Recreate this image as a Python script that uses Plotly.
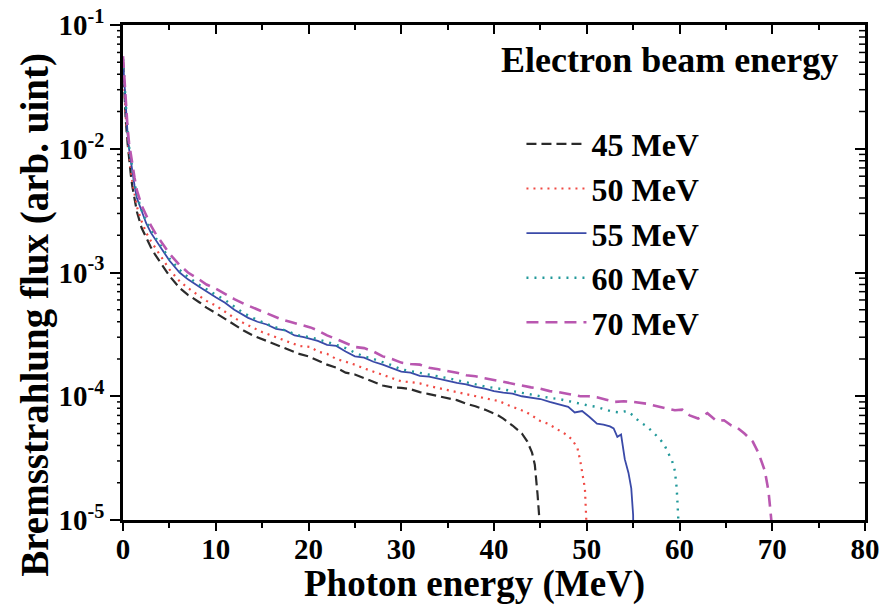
import math
import plotly.graph_objects as go

# ---------------- data ----------------
series_names = ["45 MeV", "50 MeV", "55 MeV", "60 MeV", "70 MeV"]

e45 = [0, 0.15, 0.3, 0.5, 0.65, 0.85, 1.0, 1.25, 1.5, 2.0, 2.5, 3.0, 3.45, 4.0, 5.0, 6.1, 7.0, 8.3, 9, 10, 11, 12, 13, 14, 15, 16, 17, 18, 19, 20, 21, 22, 23, 24, 25, 26, 27, 28, 29, 30, 31, 32, 33, 34, 35, 36, 37, 38, 39, 40.3, 41, 42, 43, 43.6, 44.1, 44.4, 44.7, 44.9, 45.0]
f45 = [0.05, 0.028, 0.017, 0.011, 0.0082, 0.0061, 0.0050, 0.0039, 0.0031, 0.0023, 0.0019, 0.0016, 0.0014, 0.00122, 0.00094, 0.00075, 0.00066, 0.00057, 0.00052, 0.00047, 0.00042, 0.00038, 0.00034, 0.00031, 0.00029, 0.00027, 0.00025, 0.000235, 0.00022, 0.00021, 0.000195, 0.00018, 0.00017, 0.000155, 0.00015, 0.00014, 0.00013, 0.000122, 0.000118, 0.000117, 0.000114, 0.000108, 0.000104, 0.0001, 0.000097, 0.000093, 0.000087, 0.000083, 0.000078, 0.000071, 0.000066, 0.000058, 0.00005, 0.000043, 0.000035, 0.000028, 0.000016, 0.00001, 0.000005]

e50 = [0, 0.15, 0.3, 0.5, 0.65, 0.85, 1.0, 1.25, 1.5, 2.0, 2.5, 3.0, 3.45, 4.0, 5.0, 6.1, 7.0, 8.3, 9, 10, 11, 12, 13, 14, 15, 16, 17, 18, 19, 20.2, 21, 22, 23, 24, 25, 26, 27, 28, 29, 30, 31, 32, 33, 34, 35.3, 36, 37, 38, 39, 40.6, 41.5, 42.5, 43.4, 44.2, 45, 45.8, 46.8, 47.6, 48.4, 49.0, 49.3, 49.6, 49.8, 49.95, 50.0]
f50 = [0.051, 0.029, 0.018, 0.012, 0.0088, 0.0067, 0.0055, 0.0043, 0.0034, 0.0026, 0.0021, 0.0018, 0.0016, 0.00137, 0.00106, 0.00085, 0.00075, 0.00064, 0.00059, 0.00054, 0.00048, 0.00043, 0.00039, 0.00036, 0.00033, 0.00031, 0.00029, 0.00027, 0.000255, 0.00025, 0.00023, 0.00022, 0.0002, 0.00019, 0.00018, 0.000168, 0.000158, 0.00015, 0.00014, 0.000132, 0.00013, 0.000127, 0.000121, 0.000116, 0.00011, 0.000108, 0.000104, 0.0001, 0.000096, 0.000091, 0.000085, 0.00008, 0.000075, 0.000069, 0.000063, 0.00006, 0.000054, 0.00005, 0.000045, 0.000038, 0.00003, 0.000023, 0.000018, 0.00001, 0.000005]

e55 = [0, 0.15, 0.3, 0.5, 0.65, 0.85, 1.0, 1.25, 1.5, 2.0, 2.5, 3.0, 3.45, 4.0, 5.0, 6.1, 7.0, 8.3, 9.0, 10, 11, 12, 13.5, 14.5, 15.5, 16.5, 17.5, 18.5, 19.5, 20.2, 21, 22, 23, 24, 25, 26, 27, 28, 29, 30, 31, 32, 33, 34, 35, 36, 37, 38, 39, 40, 41, 42, 43, 44, 45, 46, 47, 48, 48.7, 49.5, 50.3, 51.1, 51.8, 52.5, 52.9, 53.3, 53.7, 54.1, 54.5, 54.8, 55.0, 55.05]
f55 = [0.052, 0.032, 0.02, 0.013, 0.01, 0.0077, 0.0064, 0.0050, 0.0040, 0.0031, 0.0025, 0.0021, 0.00186, 0.0016, 0.00125, 0.001, 0.00088, 0.00076, 0.0007, 0.00063, 0.00057, 0.0005, 0.00043, 0.0004, 0.00038, 0.00035, 0.00034, 0.00031, 0.0003, 0.00029, 0.00028, 0.00026, 0.000255, 0.00023, 0.00021, 0.000205, 0.00019, 0.00018, 0.000168, 0.000158, 0.000155, 0.000146, 0.000144, 0.000138, 0.000132, 0.000128, 0.000125, 0.000119, 0.000115, 0.00011, 0.000107, 0.000105, 0.0001, 0.000097, 0.000095, 0.00009, 0.000086, 0.000082, 0.000074, 0.000076, 0.000068, 0.00006, 0.000059, 0.000057, 0.000055, 0.000047, 0.000049, 0.000031, 0.000024, 0.000018, 0.000011, 0.000005]

e60 = [0, 0.15, 0.3, 0.5, 0.65, 0.85, 1.0, 1.25, 1.5, 2.0, 2.5, 3.0, 3.45, 4.0, 5.0, 6.1, 7.0, 8.3, 9, 10, 11, 12, 13, 14, 15, 16, 17, 18, 19, 20.2, 21, 22, 23, 24, 25, 26, 27, 28, 29, 30, 31, 32, 33, 34, 35, 36, 37, 38, 39, 40.6, 42, 43, 44, 45, 46, 47, 48, 49.3, 50.2, 51.1, 52, 52.8, 53.6, 54.3, 55, 55.7, 56.5, 57.2, 57.9, 58.4, 58.8, 59.2, 59.5, 59.7, 59.85, 60.0]
f60 = [0.053, 0.033, 0.021, 0.0135, 0.0105, 0.0081, 0.0067, 0.0053, 0.0042, 0.0032, 0.0026, 0.0022, 0.00195, 0.00168, 0.0013, 0.00105, 0.00092, 0.00079, 0.00073, 0.00066, 0.0006, 0.00053, 0.00047, 0.00043, 0.0004, 0.00037, 0.00035, 0.00033, 0.00031, 0.0003, 0.00029, 0.000275, 0.00026, 0.000245, 0.000225, 0.00021, 0.0002, 0.00019, 0.000178, 0.000165, 0.00016, 0.000155, 0.00015, 0.000145, 0.00014, 0.000135, 0.00013, 0.000126, 0.00012, 0.000115, 0.00011, 0.000106, 0.000103, 0.0001, 0.000097, 0.000095, 0.000092, 0.000087, 0.000084, 0.000082, 0.000078, 0.000075, 0.000074, 0.000076, 0.00007, 0.000062, 0.000057, 0.000051, 0.000045, 0.00004, 0.000035, 0.00003, 0.000025, 0.000018, 0.000011, 0.000005]

e70 = [0, 0.15, 0.3, 0.5, 0.65, 0.85, 1.0, 1.25, 1.5, 2.0, 2.5, 3.0, 3.45, 4.0, 5.0, 6.1, 7.0, 8.3, 9, 10, 11, 12, 13, 14, 15, 16, 17, 18, 19, 20.2, 21, 22, 23, 24, 25, 26, 27, 28, 29, 30, 31, 32, 33, 34, 35, 36, 37, 38, 39, 40.6, 42, 43, 44, 45, 46, 47, 48, 49.3, 50.2, 51.1, 52, 53, 54, 55, 56.5, 57.5, 58.5, 59.5, 60.3, 61.1, 62, 63, 64, 64.8, 65.6, 66.2, 67, 67.9, 68.5, 69.2, 69.6, 69.9, 70.0]
f70 = [0.056, 0.035, 0.022, 0.0145, 0.0112, 0.0088, 0.0073, 0.0058, 0.0046, 0.0035, 0.0029, 0.0024, 0.0021, 0.00183, 0.00142, 0.00115, 0.001, 0.00087, 0.0008, 0.00074, 0.00067, 0.00061, 0.00056, 0.00052, 0.00048, 0.00045, 0.00042, 0.0004, 0.00038, 0.00036, 0.00034, 0.00031, 0.00029, 0.00027, 0.00025, 0.000245, 0.00023, 0.00021, 0.0002, 0.000187, 0.000182, 0.00018, 0.00017, 0.000165, 0.00016, 0.000155, 0.000148, 0.000145, 0.00014, 0.000132, 0.000127, 0.000122, 0.000118, 0.000115, 0.00011, 0.000108, 0.000104, 0.0001, 0.0001, 0.000098, 0.000094, 0.00009, 0.000091, 0.00009, 0.000087, 0.000083, 0.00008, 0.000077, 0.000078, 0.00007, 0.000066, 0.000073, 0.000063, 0.000064, 0.000058, 0.000056, 0.00005, 0.000043, 0.000035, 0.000025, 0.000017, 0.00001, 0.000005]

x_tickvals = [0, 10, 20, 30, 40, 50, 60, 70, 80]
y_tickvals = [1e-1, 1e-2, 1e-3, 1e-4, 1e-5]
y_ticktext = ["10<sup>-1</sup>", "10<sup>-2</sup>", "10<sup>-3</sup>", "10<sup>-4</sup>", "10<sup>-5</sup>"]
# minor log ticks (2..9 within each decade)
y_minor_vals = [m * d for d in [1e-5, 1e-4, 1e-3, 1e-2] for m in range(2, 10)]

# ---------------- styles ----------------
energies = [e45, e50, e55, e60, e70]
fluxes = [f45, f50, f55, f60, f70]
colors = ["#2b2b2b", "#f04a44", "#3a4aa8", "#22999a", "#b957b0"]
dashes = ["10px,5px", "2px,5px", "solid", "2px,6px", "12px,7px"]
widths = [2.2, 2.2, 1.8, 2.4, 2.6]

FONT = "Liberation Serif"
Y_LOG_RANGE = [-5, -1]
PLOT_W = 881 - 123 - 16  # plot-area width in px (for tick lengths in paper units)

fig = go.Figure()
for name, xs, ys, c, d, w in zip(series_names, energies, fluxes, colors, dashes, widths):
    fig.add_trace(go.Scatter(x=xs, y=ys, mode="lines", name=name,
                             line=dict(color=c, dash=d, width=w)))

# invisible trace that hosts the mirrored (inward-tick) top/right axes
fig.add_trace(go.Scatter(x=e55, y=f55, mode="lines", xaxis="x2", yaxis="y2",
                         line=dict(width=0), opacity=0, showlegend=False,
                         hoverinfo="skip"))

# minor log ticks on the left (outside) and right (inside) frame edges
minor_len = 6 / PLOT_W
tick_shapes = []
for v in y_minor_vals:
    p = (math.log10(v) - Y_LOG_RANGE[0]) / (Y_LOG_RANGE[1] - Y_LOG_RANGE[0])
    tick_shapes.append(dict(type="line", xref="paper", yref="paper",
                            x0=0, x1=-minor_len, y0=p, y1=p,
                            line=dict(color="black", width=1.5), layer="above"))
    tick_shapes.append(dict(type="line", xref="paper", yref="paper",
                            x0=1, x1=1 - minor_len, y0=p, y1=p,
                            line=dict(color="black", width=1.5), layer="above"))

axis_font = dict(family=FONT, size=29, color="black", weight="bold")
common = dict(showgrid=False, zeroline=False, automargin=False, tickcolor="black")

fig.update_layout(
    template="none",
    width=881, height=607,
    margin=dict(l=123, r=16, t=25, b=87),
    paper_bgcolor="white", plot_bgcolor="white",
    showlegend=True,
    legend=dict(x=0.537, y=0.815, xanchor="left", yanchor="top",
                bgcolor="rgba(0,0,0,0)", borderwidth=0,
                font=dict(family=FONT, size=32, color="black", weight="bold"),
                itemwidth=60, tracegroupgap=0),
    xaxis=dict(range=[0, 80], tickvals=x_tickvals, ticks="outside", ticklen=8,
               tickwidth=2, showline=True, linewidth=2.5, linecolor="black",
               tickfont=axis_font, ticklabelstandoff=-7,
               minor=dict(dtick=5, tick0=0, ticks="outside", ticklen=5, tickwidth=2,
                          tickcolor="black", showgrid=False), **common),
    yaxis=dict(type="log", range=Y_LOG_RANGE, tickmode="array", tickvals=y_tickvals,
               ticktext=y_ticktext, ticks="outside", ticklen=10, tickwidth=2,
               showline=True, linewidth=2.5, linecolor="black", tickfont=axis_font,
               **common),
    xaxis2=dict(overlaying="x", side="top", anchor="y", range=[0, 80],
                tickvals=x_tickvals, showticklabels=False, ticks="inside",
                ticklen=9, tickwidth=2, showline=True, linewidth=2.5,
                linecolor="black",
                minor=dict(dtick=5, tick0=0, ticks="inside", ticklen=5, tickwidth=2,
                           tickcolor="black", showgrid=False), **common),
    yaxis2=dict(overlaying="y", side="right", anchor="x2", type="log", range=Y_LOG_RANGE,
                tickmode="array", tickvals=y_tickvals, showticklabels=False,
                ticks="inside", ticklen=10, tickwidth=2, showline=True,
                linewidth=2.5, linecolor="black", **common),
    shapes=tick_shapes,
    annotations=[
        dict(text="<b>Electron beam energy</b>", xref="paper", yref="paper",
             x=0.737, y=0.93, xanchor="center", yanchor="middle",
             showarrow=False, font=dict(family=FONT, size=36, color="black")),
        dict(text="<b>Photon energy (MeV)</b>", xref="paper", yref="paper",
             x=0.474, y=-0.13, xanchor="center", yanchor="middle",
             showarrow=False, font=dict(family=FONT, size=37, color="black")),
        dict(text="<b>Bremsstrahlung flux (arb. uint)</b>", xref="paper", yref="paper",
             x=-0.119, y=0.414, xanchor="center", yanchor="middle", textangle=-90,
             showarrow=False, font=dict(family=FONT, size=39, color="black")),
    ],
)

fig.write_html("out.html")
